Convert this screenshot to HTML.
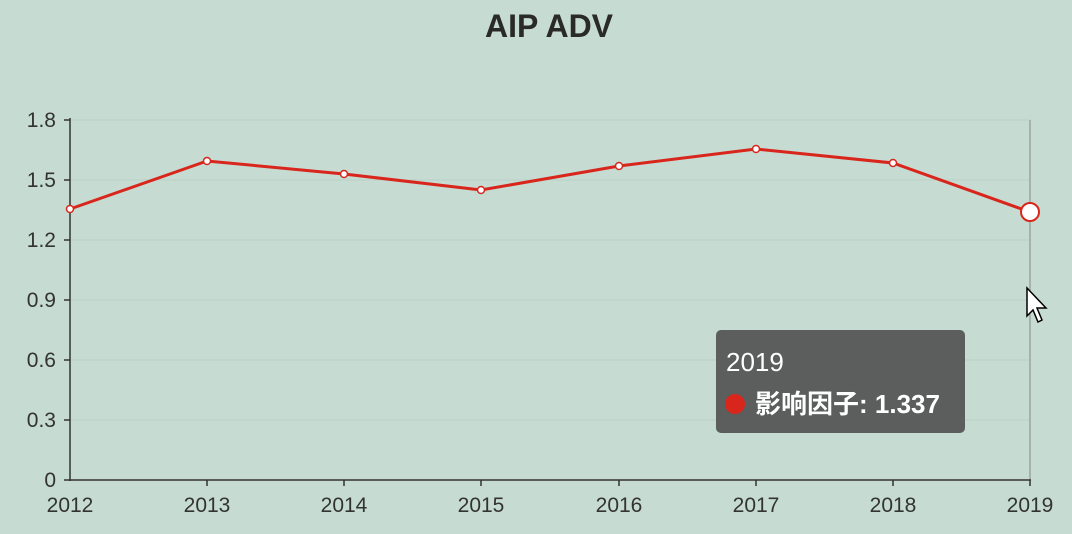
<!DOCTYPE html>
<html><head><meta charset="utf-8"><style>
html,body{margin:0;padding:0;background:#c6dbd2;}
svg{display:block;font-family:"Liberation Sans","Noto Sans CJK SC",sans-serif;}
</style></head><body>
<svg width="1072" height="534" viewBox="0 0 1072 534">
<rect width="1072" height="534" fill="#c6dbd2"/>
<text x="549" y="37" text-anchor="middle" font-size="32" font-weight="bold" fill="#2a2a2a">AIP ADV</text>
<g stroke="#b9d0c6" stroke-width="1">
<line x1="70" y1="120" x2="1030" y2="120"/><line x1="70" y1="180" x2="1030" y2="180"/>
<line x1="70" y1="240" x2="1030" y2="240"/><line x1="70" y1="300" x2="1030" y2="300"/>
<line x1="70" y1="360" x2="1030" y2="360"/><line x1="70" y1="420" x2="1030" y2="420"/>
</g>
<line x1="1030" y1="120" x2="1030" y2="480" stroke="#888" stroke-width="1"/>
<g stroke="#333" stroke-width="1.5">
<line x1="70" y1="118" x2="70" y2="481"/><line x1="69" y1="480" x2="1031" y2="480"/>
<line x1="64" y1="120" x2="70" y2="120"/><line x1="64" y1="180" x2="70" y2="180"/>
<line x1="64" y1="240" x2="70" y2="240"/><line x1="64" y1="300" x2="70" y2="300"/>
<line x1="64" y1="360" x2="70" y2="360"/><line x1="64" y1="420" x2="70" y2="420"/>
<line x1="64" y1="480" x2="70" y2="480"/>
<line x1="207" y1="480" x2="207" y2="486"/><line x1="344" y1="480" x2="344" y2="486"/>
<line x1="481" y1="480" x2="481" y2="486"/><line x1="619" y1="480" x2="619" y2="486"/>
<line x1="756" y1="480" x2="756" y2="486"/><line x1="893" y1="480" x2="893" y2="486"/>
<line x1="1030" y1="480" x2="1030" y2="486"/>
</g>
<g font-size="21" fill="#333" text-anchor="end">
<text x="56" y="127">1.8</text><text x="56" y="187">1.5</text><text x="56" y="247">1.2</text>
<text x="56" y="307">0.9</text><text x="56" y="367">0.6</text><text x="56" y="427">0.3</text>
<text x="56" y="487">0</text>
</g>
<g font-size="21" fill="#333" text-anchor="middle">
<text x="70" y="512">2012</text><text x="207" y="512">2013</text><text x="344" y="512">2014</text>
<text x="481" y="512">2015</text><text x="619" y="512">2016</text><text x="756" y="512">2017</text>
<text x="893" y="512">2018</text><text x="1030" y="512">2019</text>
</g>
<polyline fill="none" stroke="#d9261c" stroke-width="3" points="70,209 207,161 344,174 481,190 619,166 756,149 893,163 1030,212"/>
<g fill="#fff" stroke="#d9261c" stroke-width="1.5">
<circle cx="70" cy="209" r="3.5"/><circle cx="207" cy="161" r="3.5"/><circle cx="344" cy="174" r="3.5"/>
<circle cx="481" cy="190" r="3.5"/><circle cx="619" cy="166" r="3.5"/><circle cx="756" cy="149" r="3.5"/>
<circle cx="893" cy="163" r="3.5"/><circle cx="1030" cy="212" r="9" stroke-width="2"/>
</g>
<rect x="716" y="330" width="249" height="103" rx="5" fill="#5b5e5d"/>
<text x="726" y="371" font-size="26" fill="#fff">2019</text>
<circle cx="735" cy="404" r="10" fill="#d9261c"/>
<text x="755" y="413" font-size="26" font-weight="bold" fill="#fff">影响因子: 1.337</text>
<path d="M1027,288 L1027,316 L1033,310 L1038,322 L1042,320 L1037,308 L1046,308 Z" fill="#fff" stroke="#000" stroke-width="1.5"/>
</svg>
</body></html>
